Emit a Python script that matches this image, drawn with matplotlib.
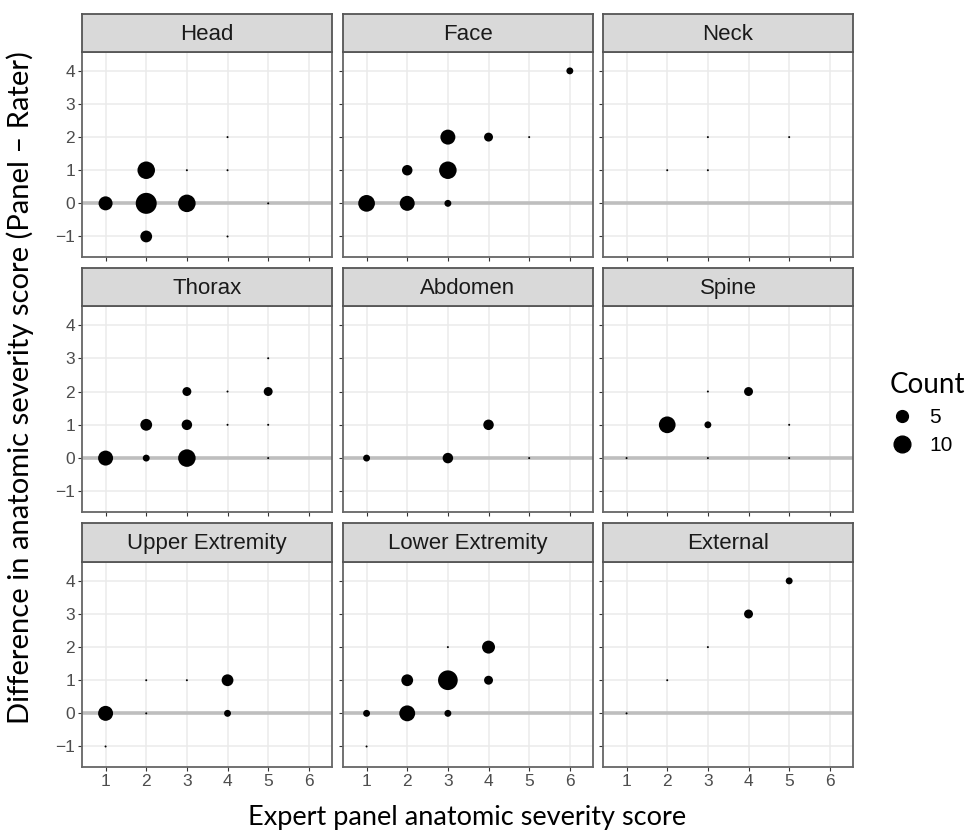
import numpy as np
import matplotlib.pyplot as plt
from matplotlib.lines import Line2D

# region order (facet layout 3 x 3)
regions = ['Head', 'Face', 'Neck',
           'Thorax', 'Abdomen', 'Spine',
           'Upper Extremity', 'Lower Extremity', 'External']

# (expert score, difference, count) per region
head = ([1, 2, 2, 2, 3, 3, 4, 4, 4, 5],
        [0, 1, 0, -1, 0, 1, 1, 2, -1, 0],
        [7, 11, 16, 5, 11, 1, 1, 1, 1, 1])
face = ([6, 3, 4, 5, 2, 3, 1, 2, 3],
        [4, 2, 2, 2, 1, 1, 0, 0, 0],
        [2, 8, 3, 1, 4, 11, 10, 8, 2])
neck = ([3, 5, 2, 3],
        [2, 2, 1, 1],
        [1, 1, 1, 1])
thorax = ([5, 3, 4, 5, 2, 3, 4, 5, 1, 2, 3, 5],
          [3, 2, 2, 2, 1, 1, 1, 1, 0, 0, 0, 0],
          [1, 3, 1, 3, 5, 4, 1, 1, 8, 2, 11, 1])
abdomen = ([4, 1, 3, 5],
           [1, 0, 0, 0],
           [4, 2, 4, 1])
spine = ([3, 4, 2, 3, 5, 1, 3, 5],
         [2, 2, 1, 1, 1, 0, 0, 0],
         [1, 3, 10, 2, 1, 1, 1, 1])
upper = ([2, 3, 4, 1, 2, 4, 1],
         [1, 1, 1, 0, 0, 0, -1],
         [1, 1, 5, 8, 1, 2, 1])
lower = ([3, 4, 2, 3, 4, 1, 2, 3, 1],
         [2, 2, 1, 1, 1, 0, 0, 0, -1],
         [1, 6, 5, 14, 3, 2, 9, 2, 1])
external = ([5, 4, 3, 2, 1],
            [4, 3, 2, 1, 0],
            [2, 3, 1, 1, 1])
region_data = [head, face, neck, thorax, abdomen, spine, upper, lower, external]

x_ticks = [1, 2, 3, 4, 5, 6]
y_ticks = [-1, 0, 1, 2, 3, 4]
legend_counts = [5, 10]

W, H = 969, 834
CMAX = 16


def marker_pt(n):
    # diameter in px grows with sqrt of count, like ggplot's area scale
    d_px = 2 + 19 * np.sqrt((np.asarray(n) - 1) / (CMAX - 1))
    return d_px * 0.72


fig = plt.figure(figsize=(W / 100, H / 100), dpi=100)
plt.rcParams['font.family'] = ['Liberation Sans', 'DejaVu Sans']

col_left = [82, 343, 603]
panel_w = 250
rows = [(14, 52, 257), (268, 306, 512), (523, 562, 767)]  # strip top, panel top, panel bottom

for i, name in enumerate(regions):
    r, c = divmod(i, 3)
    s_top, p_top, p_bot = rows[r]
    left = col_left[c]
    ax = fig.add_axes([left / W, 1 - p_bot / H, panel_w / W, (p_bot - p_top) / H])
    ax.set_xlim(0.42, 6.57)
    ax.set_ylim(-1.62, 4.57)
    ax.set_xticks(x_ticks)
    ax.set_yticks(y_ticks)
    ax.grid(True, color='#EBEBEB', lw=1.1, zorder=0)
    ax.set_axisbelow(True)
    ax.axhline(0, color='#BEBEBE', lw=2.6, zorder=1)
    x, y, n = region_data[i]
    ax.scatter(x, y, s=marker_pt(n) ** 2, color='black', lw=0, zorder=3)
    for sp in ax.spines.values():
        sp.set_color('#666666')
        sp.set_linewidth(1.3)
    ax.tick_params(length=3, color='#333333', labelsize=12.5, labelcolor='#4D4D4D', pad=2)
    if r < 2:
        ax.tick_params(axis='x', labelbottom=False)
    if c > 0:
        ax.tick_params(axis='y', labelleft=False)
    # strip
    sax = fig.add_axes([left / W, 1 - p_top / H, panel_w / W, (p_top - s_top) / H])
    sax.set_facecolor('#D9D9D9')
    sax.set_xticks([])
    sax.set_yticks([])
    for sp in sax.spines.values():
        sp.set_color('#555555')
        sp.set_linewidth(1.3)
    sax.text(0.5, 0.47, name, ha='center', va='center', fontsize=16, color='#1A1A1A',
             transform=sax.transAxes)

title_font = ['Lato', 'DejaVu Sans']
fig.text(467 / W, 1 - 818 / H, 'Expert panel anatomic severity score', ha='center', va='center',
         fontsize=19.5, family=title_font)
fig.text(20 / W, 1 - 388 / H, 'Difference in anatomic severity score (Panel \u2013 Rater)',
         ha='center', va='center', rotation=90, fontsize=21, family=title_font)

handles = [Line2D([], [], ls='none', marker='o', color='black', markersize=marker_pt(k))
           for k in legend_counts]
leg = fig.legend(handles, [str(k) for k in legend_counts], title='Count',
                 loc='upper left', bbox_to_anchor=(879 / W, 1 - 362 / H), frameon=False,
                 fontsize=15, handletextpad=0.7, labelspacing=0.45, handlelength=1.2,
                 borderpad=0)
leg.get_title().set_fontsize(20)
leg.get_title().set_family(title_font)
leg._legend_box.align = 'left'

fig.savefig('out.png', dpi=100)
